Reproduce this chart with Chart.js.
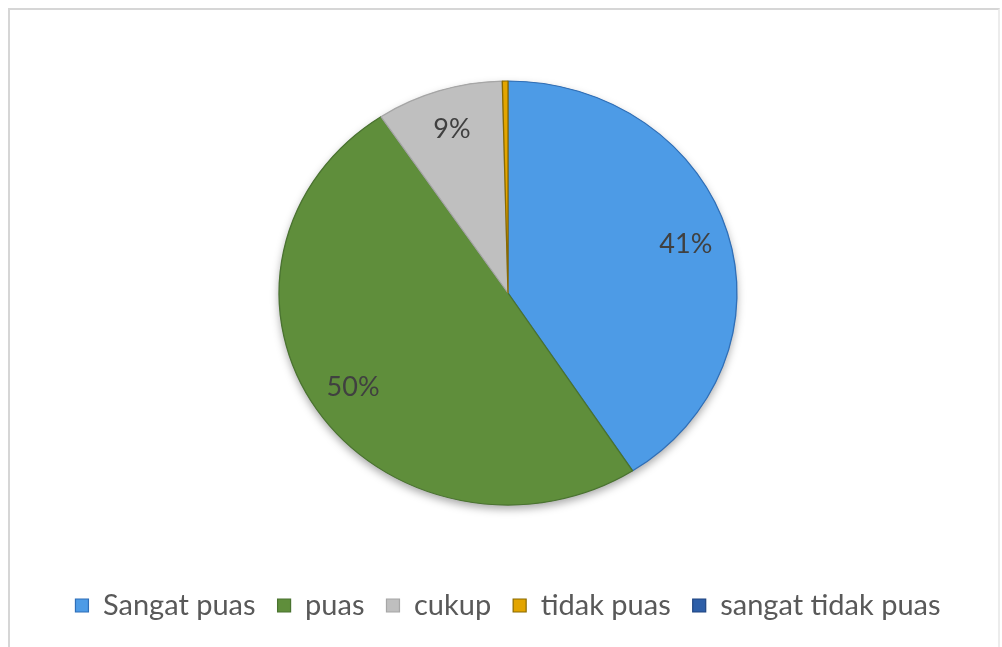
<!DOCTYPE html>
<html>
<head>
<meta charset="utf-8">
<script src="https://cdn.jsdelivr.net/npm/chart.js@4"></script>
<style>
  body { margin: 0; background: #fff; }
  #frame {
    position: absolute; left: 8px; top: 8px; width: 988px; height: 700px;
    border-top: 2px solid #d6d6d6; border-left: 2px solid #d6d6d6;
    border-right: 2px solid #ececec;
  }
  #kepuasan { position: absolute; left: 0; top: 0; }
</style>
</head>
<body>
<div id="frame"></div>
<canvas id="kepuasan" width="1002" height="647"></canvas>
<script>
const labels = ['Sangat puas', 'puas', 'cukup', 'tidak puas', 'sangat tidak puas'];
const persen = [41, 50, 9, 0.4, 0];
const warna = ['#4d9be6', '#5f8e3b', '#bfbfbf', '#e3a500', '#2e5fa8'];
const garis = ['#2f6fb8', '#4a7330', '#a6a6a6', '#8a6a00', '#1f4580'];

// pie is drawn a little wider than tall
const SX = 1.08;

const elips = {
    id: 'elips',
    beforeDatasetsDraw(chart) {
        const ctx = chart.ctx;
        const arc = chart.getDatasetMeta(0).data[0];
        const cx = arc.x, cy = arc.y, r = arc.outerRadius;
        ctx.save();
        ctx.translate(cx, cy);
        ctx.scale(SX, 1);
        ctx.translate(-cx, -cy);
        // soft shadow under the pie
        ctx.save();
        ctx.shadowColor = 'rgba(0,0,0,0.35)';
        ctx.shadowBlur = 9;
        ctx.shadowOffsetY = 4;
        ctx.beginPath();
        ctx.arc(cx, cy, r, 0, Math.PI * 2);
        ctx.fillStyle = '#888';
        ctx.fill();
        ctx.restore();
    },
    afterDatasetsDraw(chart) {
        const ctx = chart.ctx;
        ctx.restore();
        // percentage labels inside the slices
        const meta = chart.getDatasetMeta(0);
        ctx.save();
        ctx.font = '27px Lato';
        ctx.fillStyle = '#404040';
        ctx.textAlign = 'center';
        ctx.textBaseline = 'middle';
        meta.data.forEach((arc, i) => {
            if (persen[i] < 1) return;
            const mid = (arc.startAngle + arc.endAngle) / 2;
            const d = arc.outerRadius * 0.81;
            const x = arc.x + Math.cos(mid) * d * SX;
            const y = arc.y + Math.sin(mid) * d;
            ctx.fillText(Math.round(persen[i]) + '%', x, y);
        });
        ctx.restore();
    }
};

const ctx = document.getElementById('kepuasan').getContext('2d');
const chart = new Chart(ctx, {
    type: 'pie',
    data: {
        labels: labels,
        datasets: [{
            data: persen,
            backgroundColor: warna,
            borderColor: garis,
            borderWidth: 1.2,
            radius: 212
        }]
    },
    options: {
        responsive: false,
        animation: false,
        layout: { padding: { top: 17, left: 14, right: 0, bottom: 17 } },
        plugins: {
            tooltip: { enabled: false },
            legend: {
                position: 'bottom',
                labels: {
                    color: '#595959',
                    font: { family: 'Lato', size: 29 },
                    boxWidth: 13,
                    boxHeight: 13,
                    padding: 22
                }
            }
        }
    },
    plugins: [elips]
});
</script>
</body>
</html>
